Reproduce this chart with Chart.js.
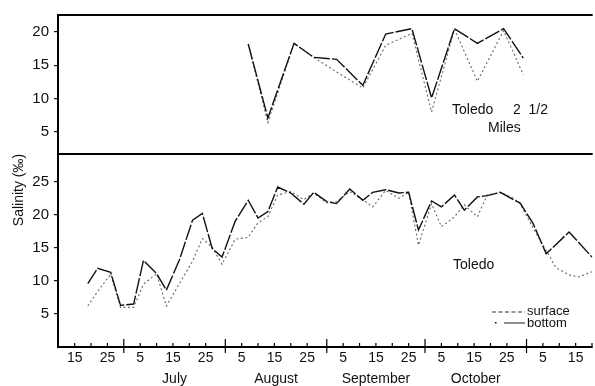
<!DOCTYPE html>
<html><head><meta charset="utf-8">
<script src="https://cdn.jsdelivr.net/npm/chart.js@4/dist/chart.umd.min.js"></script>
<style>html,body{margin:0;padding:0;background:#fff;}#wrap{position:relative;width:595px;height:386px;}</style>
</head><body><div id="wrap"><canvas id="c" width="595" height="386"></canvas></div>
<script>
// Day axis: June d -> d, July d -> 30+d, ...
const monthNames = ['June', 'July', 'August', 'September', 'October', 'November'];
const monthLengths = [30, 31, 31, 30, 31, 30];
const labeledMonths = ['July', 'August', 'September', 'October'];
const dayTickLabels = [5, 15, 25];
const minorTickDays = [5, 10, 15, 20, 25];
const topTicks = [5, 10, 15, 20];
const lowTicks = [5, 10, 15, 20, 25];

// Toledo 2 1/2 Miles (upper panel)
const topDates   = [68, 74, 82, 88, 95, 103, 110, 118, 124, 131, 138, 146, 152];
const topBottom  = [18.2, 7.1, 18.3, 16.2, 15.9, 12.0, 19.7, 20.5, 10.1, 20.5, 18.3, 20.5, 16.1];
const topSurface = [18.2, 6.4, 18.3, 16.2, 14.0, 11.6, 18.0, 19.8, 8.0, 20.4, 12.6, 20.2, 13.6];

// Toledo (lower panel)
const lowDates   = [19, 22, 26, 29, 33, 36, 40, 43, 47, 51, 54, 57, 60, 64, 68, 71, 74, 77, 81, 85, 88, 92, 95, 99, 103, 106, 110, 114, 117, 120, 124, 127, 131, 134, 138, 141, 145, 149, 151, 155, 159, 162, 166, 169, 173];
const lowBottom  = [9.6, 11.9, 11.3, 6.3, 6.5, 13.1, 11.1, 8.6, 13.2, 19.2, 20.2, 14.9, 13.6, 19.0, 22.2, 19.5, 20.5, 24.2, 23.3, 21.6, 23.4, 22.0, 21.7, 23.9, 22.2, 23.4, 23.8, 23.3, 23.4, 17.7, 22.1, 21.2, 23.0, 20.7, 22.7, 22.9, 23.4, 22.3, 21.8, 18.7, 14.1, null, 17.4, null, 13.6];
const lowSurface = [6.2, 8.4, 11.0, 6.0, 6.0, 9.5, 11.1, 6.2, 9.6, 13.0, 16.4, 15.1, 12.5, 16.3, 16.6, 18.8, 19.7, 23.0, 23.5, 22.3, 23.3, 21.8, 22.0, 23.5, 22.3, 21.2, 23.7, 22.5, 23.4, 15.4, 21.7, 18.2, 19.7, 21.5, 19.7, 23.0, 23.4, 22.5, 21.7, 18.0, 14.6, 12.0, 10.9, 10.6, 11.4];

const X_MIN = 9.9, X_MAX = 173.2;

const monthStarts = [];
monthLengths.reduce((acc, len) => { monthStarts.push(acc); return acc + len; }, 0);
const dayTicks = [];
monthNames.forEach((m, i) => {
  minorTickDays.forEach(d => {
    const v = monthStarts[i] + d;
    if (v >= X_MIN && v <= X_MAX) dayTicks.push({ value: v, label: dayTickLabels.includes(d) ? String(d) : '' });
  });
});
const monthMids = labeledMonths.map(m => {
  const i = monthNames.indexOf(m);
  return { value: monthStarts[i] + monthLengths[i] / 2, label: m };
});
const monthBounds = monthStarts.slice(1).filter(v => v >= X_MIN && v <= X_MAX);

const pts = (xs, ys) => xs.map((x, i) => ({ x: x, y: ys[i] }));
const FONT = 'Liberation Sans, Arial, sans-serif';
const surfStyle = { borderColor: '#666', borderWidth: 1.1, borderDash: [2, 2.5] };
const botStyle = { borderColor: '#111', borderWidth: 1.4, borderDash: [16, 2] };

const framePlugin = {
  id: 'frame',
  afterDraw(chart) {
    const ctx = chart.ctx, ca = chart.chartArea;
    const x = chart.scales.x, yT = chart.scales.yTop;
    ctx.save();
    ctx.strokeStyle = '#000';
    ctx.lineWidth = 2;
    ctx.beginPath();
    ctx.moveTo(ca.left - 1, ca.top); ctx.lineTo(ca.right, ca.top);
    ctx.moveTo(ca.left - 1, yT.bottom); ctx.lineTo(ca.right, yT.bottom);
    ctx.moveTo(ca.left - 1, ca.bottom); ctx.lineTo(ca.right, ca.bottom);
    ctx.stroke();
    ctx.lineWidth = 1.2;
    ctx.beginPath();
    dayTicks.forEach(t => {
      const px = x.getPixelForValue(t.value);
      ctx.moveTo(px, ca.bottom); ctx.lineTo(px, ca.bottom - 4);
    });
    monthBounds.forEach(v => {
      const px = x.getPixelForValue(v);
      ctx.moveTo(px, ca.bottom + 6); ctx.lineTo(px, ca.bottom - 8);
    });
    ctx.stroke();

    // texts
    ctx.fillStyle = '#111';
    ctx.font = '14px ' + FONT;
    ctx.textBaseline = 'middle';
    ctx.textAlign = 'left';
    ctx.fillText('Toledo', 452, 110);
    ctx.fillText('2  1/2', 513, 110);
    ctx.fillText('Miles', 488, 128);
    ctx.fillText('Toledo', 453, 265);

    // y title
    ctx.save();
    ctx.translate(19, 190);
    ctx.rotate(-Math.PI / 2);
    ctx.textAlign = 'center';
    ctx.fillText('Salinity (‰)', 0, 0);
    ctx.restore();

    // legend
    ctx.font = '13px ' + FONT;
    ctx.fillText('surface', 527, 311);
    ctx.fillText('bottom', 527, 323);
    ctx.strokeStyle = '#333';
    ctx.lineWidth = 1.1;
    ctx.setLineDash([4, 2.5]);
    ctx.beginPath(); ctx.moveTo(492, 312); ctx.lineTo(525, 312); ctx.stroke();
    ctx.setLineDash([]);
    ctx.beginPath(); ctx.moveTo(504, 323); ctx.lineTo(525, 323); ctx.stroke();
    ctx.fillRect(495, 322, 1.5, 1.5);
    ctx.restore();
  }
};

new Chart(document.getElementById('c'), {
  type: 'line',
  data: {
    datasets: [
      Object.assign({ label: 'bottom', data: pts(topDates, topBottom), yAxisID: 'yTop' }, botStyle),
      Object.assign({ label: 'surface', data: pts(topDates, topSurface), yAxisID: 'yTop' }, surfStyle),
      Object.assign({ label: 'bottom', data: pts(lowDates, lowBottom), yAxisID: 'yBot', spanGaps: true }, botStyle),
      Object.assign({ label: 'surface', data: pts(lowDates, lowSurface), yAxisID: 'yBot', spanGaps: true }, surfStyle)
    ]
  },
  options: {
    responsive: false,
    animation: false,
    layout: { padding: { top: 15, left: 0, right: 0, bottom: 0 } },
    plugins: { legend: { display: false }, tooltip: { enabled: false } },
    elements: { point: { radius: 0 }, line: { tension: 0, fill: false } },
    scales: {
      x: {
        type: 'linear', position: 'bottom', min: X_MIN, max: X_MAX,
        afterBuildTicks: s => { s.ticks = dayTicks.map(t => ({ value: t.value })); },
        ticks: { autoSkip: false, maxRotation: 0, padding: 3, color: '#111',
          font: { family: FONT, size: 14 },
          callback: (v, i) => dayTicks[i] ? dayTicks[i].label : '' },
        grid: { display: false, drawTicks: false },
        border: { display: false },
        afterFit: s => { s.height = 20; }
      },
      xMonth: {
        type: 'linear', position: 'bottom', min: X_MIN, max: X_MAX,
        afterBuildTicks: s => { s.ticks = monthMids.map(t => ({ value: t.value })); },
        ticks: { autoSkip: false, maxRotation: 0, padding: 4, color: '#111',
          font: { family: FONT, size: 14 },
          callback: (v, i) => monthMids[i] ? monthMids[i].label : '' },
        grid: { display: false, drawTicks: false },
        border: { display: false },
        afterFit: s => { s.height = 19; }
      },
      yBot: {
        type: 'linear', position: 'left', stack: 'panels', stackWeight: 193,
        min: 0, max: 29.2,
        afterBuildTicks: s => { s.ticks = lowTicks.map(v => ({ value: v })); },
        ticks: { padding: 5, color: '#111', font: { family: FONT, size: 15 } },
        grid: { drawOnChartArea: false, drawTicks: true, tickLength: 4, color: '#111', lineWidth: 1.2 },
        border: { display: true, color: '#000', width: 2 },
        afterFit: s => { s.width = 58; }
      },
      yTop: {
        type: 'linear', position: 'left', stack: 'panels', stackWeight: 139,
        min: 1.7, max: 22.55,
        afterBuildTicks: s => { s.ticks = topTicks.map(v => ({ value: v })); },
        ticks: { padding: 5, color: '#111', font: { family: FONT, size: 15 } },
        grid: { drawOnChartArea: false, drawTicks: true, tickLength: 4, color: '#111', lineWidth: 1.2 },
        border: { display: true, color: '#000', width: 2 },
        afterFit: s => { s.width = 58; }
      }
    }
  },
  plugins: [framePlugin]
});
</script>
</body></html>
